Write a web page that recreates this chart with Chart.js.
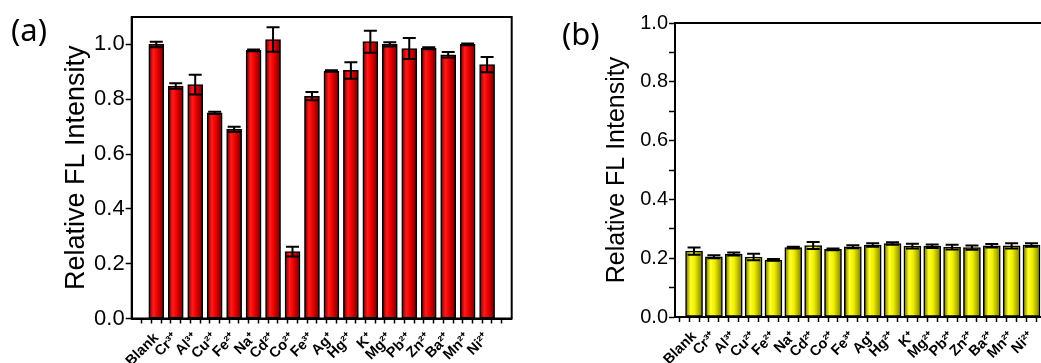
<!DOCTYPE html>
<html>
<head>
<meta charset="utf-8">
<script src="https://cdn.jsdelivr.net/npm/chart.js@4"></script>
<style>
  html, body { margin: 0; padding: 0; background: #fff; overflow: hidden; width: 1041px; height: 363px; }
  .wrap { position: absolute; top: 0; }
  .tag { position: absolute; font-family: "Noto Sans", "Open Sans", sans-serif; font-size: 31px; line-height: 1; color: #000; }
</style>
</head>
<body>
<div class="wrap" style="left:0;width:525px;height:363px"><canvas id="chartA" width="525" height="363"></canvas></div>
<div class="wrap" style="left:520px;width:560px;height:363px"><canvas id="chartB" width="560" height="363"></canvas></div>
<div class="tag" style="left:11px;top:14px">(a)</div>
<div class="tag" style="left:562px;top:18px">(b)</div>
<script>
// ions tested
var labels = ['Blank', 'Cr³⁺', 'Al³⁺', 'Cu²⁺', 'Fe²⁺', 'Na⁺', 'Cd²⁺', 'Co²⁺', 'Fe³⁺',
              'Ag⁺', 'Hg²⁺', 'K⁺', 'Mg²⁺', 'Pb²⁺', 'Zn²⁺', 'Ba²⁺', 'Mn²⁺', 'Ni²⁺'];

// (a) relative FL intensity and error
var valuesA = [1.0, 0.848, 0.853, 0.75, 0.69, 0.978, 1.018, 0.244, 0.811,
               0.903, 0.905, 1.01, 1.0, 0.985, 0.986, 0.962, 1.0, 0.926];
var errorsA = [0.01, 0.01, 0.036, 0.004, 0.01, 0.003, 0.045, 0.018, 0.015,
               0.003, 0.03, 0.04, 0.008, 0.038, 0.004, 0.01, 0.003, 0.028];

// (b)
var valuesB = [0.224, 0.205, 0.214, 0.204, 0.194, 0.236, 0.243, 0.23, 0.239,
               0.245, 0.25, 0.241, 0.241, 0.238, 0.236, 0.242, 0.242, 0.245];
var errorsB = [0.012, 0.005, 0.005, 0.011, 0.003, 0.003, 0.012, 0.003, 0.005,
               0.006, 0.004, 0.008, 0.006, 0.008, 0.007, 0.006, 0.009, 0.006];

Chart.defaults.font.family = '"Liberation Sans", Arial, sans-serif';
Chart.defaults.color = '#000';

// error bars, drawn from the y scale
var errorBars = {
  id: 'errorBars',
  afterDatasetsDraw: function (chart, args, opts) {
    var ctx = chart.ctx, ys = chart.scales.y;
    var meta = chart.getDatasetMeta(0);
    var vals = chart.data.datasets[0].data;
    ctx.save();
    ctx.strokeStyle = '#000';
    ctx.lineWidth = 2;
    meta.data.forEach(function (bar, i) {
      var v = vals[i].y, e = opts.errors[i];
      var top = ys.getPixelForValue(v + e), bot = ys.getPixelForValue(v - e);
      var hw = opts.cap / 2;
      ctx.beginPath();
      ctx.moveTo(bar.x, top); ctx.lineTo(bar.x, bot);
      ctx.moveTo(bar.x - hw, top); ctx.lineTo(bar.x + hw, top);
      ctx.moveTo(bar.x - hw, bot); ctx.lineTo(bar.x + hw, bot);
      ctx.stroke();
    });
    ctx.restore();
  }
};

// closed frame round the plot
var frame = {
  id: 'frame',
  afterDraw: function (chart) {
    var a = chart.chartArea, ctx = chart.ctx;
    ctx.save();
    ctx.strokeStyle = '#000';
    ctx.lineWidth = 2;
    ctx.strokeRect(a.left, a.top, a.right - a.left, a.bottom - a.top);
    ctx.restore();
  }
};

function makeChart(id, values, errors, o) {
  var pts = values.map(function (v, i) { return { x: i, y: v }; });
  return new Chart(document.getElementById(id), {
    type: 'bar',
    data: {
      datasets: [{
        data: pts,
        barThickness: o.barW,
        borderColor: '#000',
        borderWidth: 1.5,
        borderSkipped: false,
        backgroundColor: function (c) {
          if (c.type !== 'data' || !c.chart.chartArea) return o.colors[1];
          var px = c.chart.scales.x.getPixelForValue(c.parsed.x);
          var g = c.chart.ctx.createLinearGradient(px - o.barW / 2, 0, px + o.barW / 2, 0);
          g.addColorStop(0, o.colors[0]);
          g.addColorStop(0.3, o.colors[1]);
          g.addColorStop(0.55, o.colors[2]);
          g.addColorStop(1, o.colors[3]);
          return g;
        }
      }]
    },
    options: {
      responsive: false,
      animation: false,
      devicePixelRatio: 1,
      layout: { padding: { left: 0, top: o.top, right: o.right, bottom: 0 } },
      plugins: {
        legend: { display: false },
        tooltip: { enabled: false },
        errorBars: { errors: errors, cap: o.cap }
      },
      scales: {
        x: {
          type: 'linear',
          min: o.xmin, max: o.xmax,
          afterBuildTicks: function (s) {
            var t = [];
            for (var v = -0.5; v <= 17.5; v += 0.5) t.push({ value: v });
            s.ticks = t;
          },
          afterFit: function (s) { s.height = o.xh; },
          grid: { drawOnChartArea: false, drawTicks: true, tickLength: 5, tickColor: '#000', tickWidth: 1.5 },
          border: { display: true, color: '#000', width: 2 },
          ticks: {
            autoSkip: false, minRotation: 45, maxRotation: 45, padding: 6,
            font: { size: 14.5, weight: 'bold' },
            callback: function (v) { return Number.isInteger(v) ? labels[v] : ''; }
          }
        },
        y: {
          min: 0, max: o.ymax,
          afterFit: function (s) { s.width = o.yw; },
          grid: { drawOnChartArea: false, drawTicks: true, tickLength: 6, tickColor: '#000', tickWidth: 1.5 },
          border: { display: true, color: '#000', width: 2 },
          ticks: {
            stepSize: 0.1, padding: 1,
            font: { size: o.tickSize },
            callback: function (v) { return Math.round(v * 10) % 2 === 0 ? v.toFixed(1) : ''; }
          },
          title: {
            display: true, text: 'Relative FL Intensity',
            font: { size: o.titleSize },
            padding: { top: o.titlePad, bottom: 0 }
          }
        }
      }
    },
    plugins: [errorBars, frame]
  });
}

makeChart('chartA', valuesA, errorsA, {
  barW: 15, cap: 13, top: 17, right: 13.3, xh: 44.5, yw: 131.7,
  xmin: -1, xmax: 18, ymax: 1.1, tickSize: 22, titleSize: 27, titlePad: 60,
  colors: ['#5a0000', '#ff1c1c', '#ee0000', '#6a0000']
});

makeChart('chartB', valuesB, errorsB, {
  barW: 17, cap: 13, top: 23, right: 23.5, xh: 46, yw: 155,
  xmin: -0.7, xmax: 18, ymax: 1.0, tickSize: 20, titleSize: 25, titlePad: 82,
  colors: ['#6a6a00', '#ffff2a', '#eeee00', '#7a7a00']
});
</script>
</body>
</html>
